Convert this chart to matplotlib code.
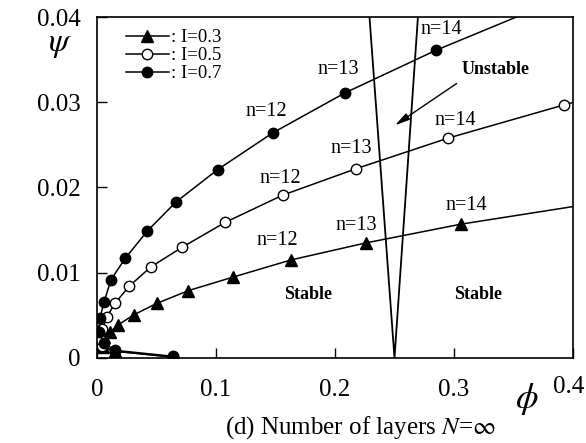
import numpy as np
import matplotlib
matplotlib.use("Agg")
import matplotlib.pyplot as plt
from matplotlib.transforms import ScaledTranslation

plt.rcParams["font.family"] = ["Liberation Serif", "DejaVu Serif"]
plt.rcParams["mathtext.fontset"] = "stix"

# I = 0.3 (filled triangles), points ordered along the curve; last point lies off-chart
phi_03 = [0.064, 0.015, 0.005, 0.0025, 0.0055, 0.0109, 0.0179, 0.0314, 0.0502,
          0.0767, 0.1146, 0.163, 0.226, 0.3059, 0.42]
psi_03 = [0.0001, 0.0008, 0.0013, 0.0020, 0.0025, 0.0030, 0.0039, 0.0051, 0.0064,
          0.0079, 0.0095, 0.0115, 0.0135, 0.0157, 0.0182]

# I = 0.5 (open circles)
phi_05 = [0.064, 0.015, 0.0045, 0.0025, 0.0045, 0.0081, 0.0151, 0.0269, 0.0454,
          0.0717, 0.1076, 0.156, 0.2176, 0.2952, 0.3927, 0.50]
psi_05 = [0.0001, 0.0008, 0.0014, 0.0022, 0.0034, 0.0048, 0.0064, 0.0084, 0.0107,
          0.0130, 0.0159, 0.0191, 0.0222, 0.0258, 0.0297, 0.0338]

# I = 0.7 (filled circles)
phi_07 = [0.064, 0.015, 0.0055, 0.0017, 0.0025, 0.0060, 0.0118, 0.0238, 0.0423,
          0.0664, 0.1014, 0.1476, 0.2084, 0.2849, 0.375]
psi_07 = [0.0002, 0.0009, 0.0018, 0.0030, 0.0047, 0.0066, 0.0092, 0.0117, 0.0149,
          0.0183, 0.0221, 0.0264, 0.0311, 0.0361, 0.0413]

# stability boundary (V shape)
v_phi = [0.229, 0.25, 0.2697]
v_psi = [0.04, 0.0, 0.04]

# n labels: (text, phi, psi)
n_labels = [
    ("n=12", 0.1426, 0.0289), ("n=13", 0.2028, 0.0338), ("n=14", 0.2896, 0.0385),
    ("n=12", 0.1538, 0.0211), ("n=13", 0.2140, 0.0246), ("n=14", 0.3008, 0.0279),
    ("n=12", 0.1513, 0.0138), ("n=13", 0.2176, 0.0155), ("n=14", 0.3107, 0.0179),
]

fig = plt.figure(figsize=(5.86, 4.43), dpi=100)
ax = fig.add_axes([0.1655, 0.1919, 0.8123, 0.7697])

kw = dict(color="k", lw=1.1, clip_on=True)
ax.plot(phi_03, psi_03, marker="^", ms=8, mfc="k", mec="k", label=": I=0.3", **kw)
ax.plot(phi_05, psi_05, marker="o", ms=7.5, mfc="w", mec="k", mew=1.0, label=": I=0.5", **kw)
ax.plot(phi_07, psi_07, marker="o", ms=7.5, mfc="k", mec="k", label=": I=0.7", **kw)
ax.plot(v_phi, v_psi, color="k", lw=1.3)

for t, x, y in n_labels:
    ax.text(x, y, t, fontsize=14.5, ha="center", va="center")

ax.text(0.3353, 0.0338, "Unstable", fontsize=13, fontweight="bold", ha="center", va="center")
ax.text(0.1776, 0.0075, "Stable", fontsize=13, fontweight="bold", ha="center", va="center")
ax.text(0.3204, 0.0075, "Stable", fontsize=13, fontweight="bold", ha="center", va="center")
ax.annotate("", xy=(0.2504, 0.0273), xytext=(0.3022, 0.0322),
            arrowprops=dict(arrowstyle="-|>,head_length=0.9,head_width=0.22",
                            color="k", lw=1.0, shrinkA=0, shrinkB=0))

ax.set_xlim(0, 0.4)
ax.set_ylim(0, 0.04)
ax.set_xticks([0, 0.1, 0.2, 0.3, 0.4])
ax.set_xticklabels(["0", "0.1", "0.2", "0.3", "0.4"])
ax.set_yticks([0, 0.01, 0.02, 0.03, 0.04])
ax.set_yticklabels(["0", "0.01", "0.02", "0.03", "0.04"])
ax.tick_params(direction="in", length=7, width=1, labelsize=18)
ax.tick_params(axis="x", pad=15)
ax.tick_params(axis="y", pad=12)
last = ax.get_xticklabels()[-1]
last.set_transform(last.get_transform() + ScaledTranslation(-4 / 100, 3 / 100, fig.dpi_scale_trans))
for s in ax.spines.values():
    s.set_linewidth(1.2)

fig.text(60 / 586, 1 - 45 / 443, r"$\psi$", fontsize=24, ha="center", va="center")
fig.text(527 / 586, 1 - 399 / 443, r"$\phi$", fontsize=26, ha="center", va="center")
fig.text(360 / 586, 1 - 428 / 443, r"(d) Number of layers $N$=$\infty$",
         fontsize=18, ha="center", va="center")

ax.legend(loc="upper left", bbox_to_anchor=(0.06, 0.965), frameon=False,
          fontsize=13.5, handlelength=2.3, handletextpad=0.1, labelspacing=0.05,
          borderaxespad=0, borderpad=0)

fig.savefig("out.png", dpi=100)
